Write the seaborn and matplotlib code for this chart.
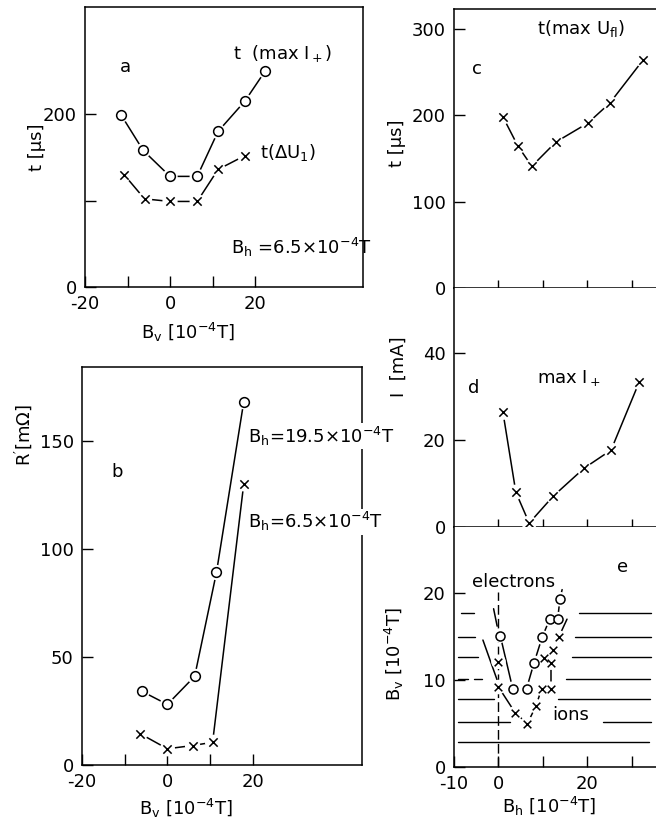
import numpy as np
import matplotlib
matplotlib.use("Agg")
import matplotlib.pyplot as plt
import seaborn as sns

# ---- data ----
# panel a: t vs B_v  (B_h = 6.5e-4 T)
a_bv_max = [-11.5, -6.3, 0.0, 6.4, 11.3, 17.6, 22.4]
a_t_max = [199, 158, 128, 128, 180, 215, 250]
a_bv_du = [-10.8, -6.0, 0.0, 6.4, 11.3, 17.6]
a_t_du = [130, 102, 99, 99, 136, 152]

# panel b: R' vs B_v for two B_h
b_bv_195 = [-5.9, 0.0, 6.4, 11.5, 17.9]
b_r_195 = [34, 28, 41, 89, 168]
b_bv_65 = [-6.4, 0.0, 5.9, 10.6, 17.9]
b_r_65 = [14.5, 7.5, 9.0, 10.5, 130]

# panel c: t(max U_fl) vs B_h
c_bh = [1.0, 4.4, 7.5, 12.9, 20.1, 25.0, 32.5]
c_t = [198, 164, 141, 169, 191, 214, 264]

# panel d: max I+ vs B_h
d_bh = [1.0, 3.9, 6.9, 12.3, 19.2, 25.3, 31.6]
d_i = [26.4, 8.0, 0.9, 7.1, 13.5, 17.7, 33.3]

# panel e: boundaries in (B_h, B_v)
e_el_bh = [0.4, 3.2, 6.3, 8.0, 9.8, 11.5, 13.3, 13.8]
e_el_bv = [15.1, 9.0, 9.0, 12.0, 14.9, 17.0, 17.0, 19.3]
e_el_lines = [([-1.1, -0.3], [18.2, 16.2]),
              ([0.4, 3.2], [15.1, 9.0]),
              ([6.3, 8.0, 9.8, 11.5], [9.0, 12.0, 14.9, 17.0]),
              ([13.3, 13.8, 14.3], [17.0, 19.3, 20.4])]
e_ion_bh = [0.0, 0.0, 3.8, 6.5, 8.4, 9.7, 11.8, 11.8, 10.3, 12.2, 13.5]
e_ion_bv = [12.1, 9.2, 6.2, 5.0, 7.0, 9.0, 9.0, 12.0, 12.5, 13.5, 14.9]
e_ion_lines = [([-3.5, -0.3], [14.6, 10.0]),
               ([0.0, 3.8, 6.5, 8.4, 9.7], [9.2, 6.2, 5.0, 7.0, 9.0]),
               ([11.8, 11.8, 12.2, 13.5, 15.4], [9.0, 12.0, 13.5, 14.9, 17.0])]
# scan levels (B_v) with the drawn line pieces on each side
e_levels = [2.9, 5.2, 7.8, 10.1, 10.1, 12.6, 15.0, 17.7]
e_left_from = [-9.2, -9.2, -9.2, -9.2, -5.6, -9.2, -9.2, -8.5]
e_left_to = [33.8, 2.5, -1.0, -6.8, -3.7, -4.7, -5.2, -5.6]
e_right_lv = [5.2, 7.8, 10.1, 12.6, 15.0, 17.7]
e_right_from = [23.6, 13.3, 15.1, 16.6, 17.1, 18.2]
e_right_to = [34.2, 34.0, 34.0, 34.2, 34.3, 34.2]

sns.set_style("ticks")
plt.rcParams['font.family'] = ['DejaVu Sans']
plt.rcParams['mathtext.default'] = 'regular'
plt.rcParams['text.color'] = 'black'
plt.rcParams['axes.labelcolor'] = 'black'
FS = 13

W, H = 656, 822
fig = plt.figure(figsize=(W / 100, H / 100), dpi=100)


def add_ax(left, right, top, bottom):
    return fig.add_axes([left / W, 1 - bottom / H, (right - left) / W, (bottom - top) / H])


def style(ax):
    for s in ax.spines.values():
        s.set_linewidth(1.1)
        s.set_color('black')
    ax.tick_params(direction='in', length=8, width=1.0, labelsize=FS, colors='black', pad=6)


def series(ax, x, y, marker, lines=True, ms=7):
    if lines:
        sns.lineplot(x=x, y=y, ax=ax, color='black', lw=1.1, sort=False, estimator=None, zorder=2)
    # white disc under each marker leaves the small gap seen in the original
    sns.scatterplot(x=x, y=y, ax=ax, s=(ms + 4) ** 2, color='white', edgecolor='none', zorder=3)
    if marker == 'o':
        sns.scatterplot(x=x, y=y, ax=ax, marker='o', s=ms ** 2, facecolor='white',
                        edgecolor='black', linewidth=1.1, zorder=4)
    else:
        sns.scatterplot(x=x, y=y, ax=ax, marker='x', s=(ms - 1) ** 2, color='black',
                        linewidth=1.1, zorder=4)


# ---- panel a ----
ax = add_ax(85, 363, 7, 287)
style(ax)
series(ax, a_bv_max, a_t_max, 'o')
series(ax, a_bv_du, a_t_du, 'x')
ax.set_xlim(-20, 45.4)
ax.set_ylim(0, 324)
ax.set_xticks([-20, -10, 0, 10, 20])
ax.set_xticklabels(['-20', '', '0', '', '20'])
ax.set_yticks([0, 100, 200])
ax.set_yticklabels(['0', '', '200'])
ax.set_xlabel(r'B$_v$ [10$^{-4}$T]', fontsize=FS)
ax.set_ylabel(r't [μs]', fontsize=FS)
ax.xaxis.set_label_coords(0.37, -0.12)
ax.yaxis.set_label_coords(-0.14, 0.5)
ax.text(-10.6, 254, 'a', fontsize=FS, ha='center', va='center')
ax.text(14.8, 270, r't  (max I$_+$)', fontsize=FS, ha='left', va='center')
ax.text(21.2, 156, r't($\Delta$U$_1$)', fontsize=FS, ha='left', va='center')
ax.text(14.4, 46, r'B$_h$ =6.5$\times$10$^{-4}$T', fontsize=FS, ha='left', va='center')

# ---- panel b ----
ax = add_ax(82, 362, 367, 765)
style(ax)
series(ax, b_bv_195, b_r_195, 'o')
series(ax, b_bv_65, b_r_65, 'x')
ax.set_xlim(-20, 45.6)
ax.set_ylim(0, 184)
ax.set_xticks([-20, -10, 0, 10, 20])
ax.set_xticklabels(['-20', '', '0', '', '20'])
ax.set_yticks([0, 50, 100, 150])
ax.set_xlabel(r'B$_v$ [10$^{-4}$T]', fontsize=FS)
ax.set_ylabel(r"R$'$[m$\Omega$]", fontsize=FS)
ax.xaxis.set_label_coords(0.37, -0.08)
ax.yaxis.set_label_coords(-0.17, 0.83)
ax.text(-11.8, 135.6, 'b', fontsize=FS, ha='center', va='center')
box = dict(facecolor='white', edgecolor='none', pad=1)
ax.text(18.8, 152, r'B$_h$=19.5$\times$10$^{-4}$T', fontsize=FS, ha='left', va='center', bbox=box)
ax.text(18.8, 112.5, r'B$_h$=6.5$\times$10$^{-4}$T', fontsize=FS, ha='left', va='center', bbox=box)

# ---- panels c, d, e (shared B_h axis) ----
xl = (-10, 35.4)
axc = add_ax(454, 656, 9, 288)
axd = add_ax(454, 656, 288, 527)
axe = add_ax(454, 656, 527, 767)
for a in (axc, axd, axe):
    style(a)
    a.spines['right'].set_visible(False)
    a.set_xlim(*xl)
    a.set_xticks([0, 10, 20, 30])
for a in (axc, axd):
    a.tick_params(axis='x', direction='inout', length=12, labelbottom=False)
axd.spines['top'].set_visible(False)
axe.spines['top'].set_visible(False)

series(axc, c_bh, c_t, 'x')
axc.set_ylim(0, 323)
axc.set_yticks([0, 100, 200, 300])
axc.set_ylabel(r't [μs]', fontsize=FS)
axc.yaxis.set_label_coords(-0.24, 0.52)
axc.text(-4.8, 253, 'c', fontsize=FS, ha='center', va='center')
axc.text(8.7, 301, r't(max U$_{fl}$)', fontsize=FS, ha='left', va='center')

series(axd, d_bh, d_i, 'x')
axd.set_ylim(0, 55)
axd.set_yticks([0, 20, 40])
axd.set_ylabel('I  [mA]', fontsize=FS)
axd.yaxis.set_label_coords(-0.23, 0.67)
axd.text(-5.5, 32, 'd', fontsize=FS, ha='center', va='center')
axd.text(8.7, 34.3, r'max I$_+$', fontsize=FS, ha='left', va='center')

axe.set_ylim(0, 27.6)
axe.set_yticks([0, 10, 20])
axe.set_xticks([-10, 0, 10, 20, 30])
axe.set_xticklabels(['-10', '0', '', '20', ''])
for lv, x0, x1 in zip(e_levels, e_left_from, e_left_to):
    sns.lineplot(x=[x0, x1], y=[lv, lv], ax=axe, color='black', lw=1.0, zorder=1)
for lv, x0, x1 in zip(e_right_lv, e_right_from, e_right_to):
    sns.lineplot(x=[x0, x1], y=[lv, lv], ax=axe, color='black', lw=1.0, zorder=1)
axe.plot([0, 0], [0, 20.1], color='black', lw=1.0, dashes=(7, 3), zorder=1)
for xs, ys in e_el_lines + e_ion_lines:
    sns.lineplot(x=xs, y=ys, ax=axe, color='black', lw=1.1, sort=False, estimator=None, zorder=2)
series(axe, e_el_bh, e_el_bv, 'o', lines=False, ms=6.5)
series(axe, e_ion_bh, e_ion_bv, 'x', lines=False, ms=6.5)
axe.set_xlabel(r'B$_h$ [10$^{-4}$T]', fontsize=FS)
axe.set_ylabel(r'B$_v$ [10$^{-4}$T]', fontsize=FS)
axe.xaxis.set_label_coords(0.47, -0.115)
axe.yaxis.set_label_coords(-0.24, 0.47)
axe.text(27.8, 23, 'e', fontsize=FS, ha='center', va='center')
axe.text(-6.0, 21.3, 'electrons', fontsize=FS, ha='left', va='center', bbox=box)
axe.text(12.0, 6.0, 'ions', fontsize=FS, ha='left', va='center')

fig.savefig('out.png', dpi=100)
